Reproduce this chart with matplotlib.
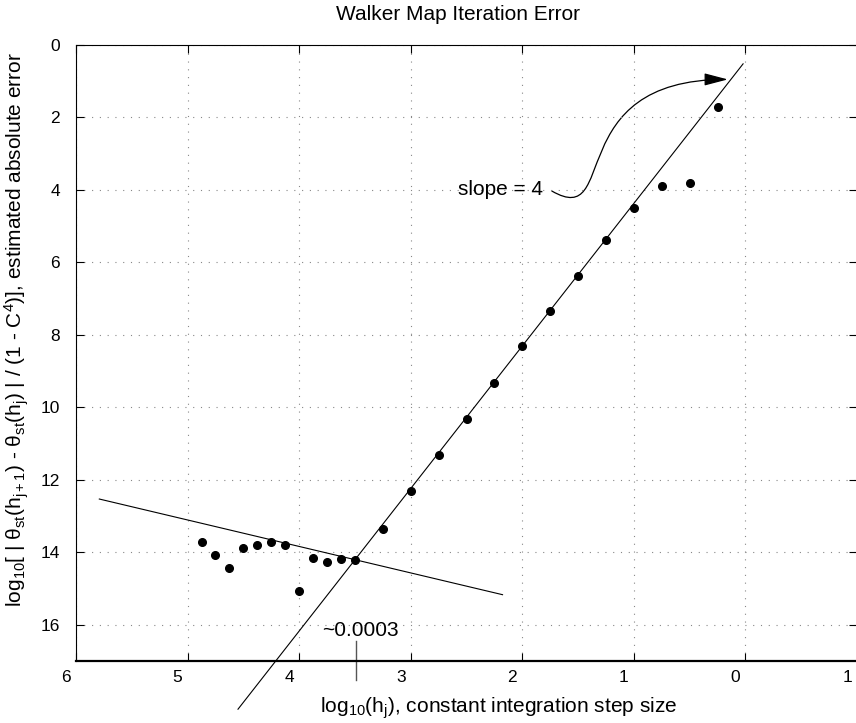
import matplotlib
matplotlib.use("Agg")
import matplotlib.pyplot as plt
from matplotlib.path import Path
from matplotlib.patches import FancyArrowPatch
from matplotlib.transforms import ScaledTranslation

plt.rcParams["font.family"] = ["Liberation Sans", "DejaVu Sans"]
plt.rcParams["mathtext.fontset"] = "custom"
plt.rcParams["mathtext.rm"] = "Liberation Sans"
plt.rcParams["mathtext.it"] = "Liberation Sans:italic"
plt.rcParams["mathtext.default"] = "regular"

# measured points: -log10(h) vs estimated error exponent
log_h = [4.875, 4.75, 4.625, 4.5, 4.375, 4.25, 4.125, 4.0, 3.875, 3.75, 3.625, 3.5,
         3.25, 3.0, 2.75, 2.5, 2.25, 2.0, 1.75, 1.5, 1.25, 1.0, 0.75, 0.5, 0.25]
log_err = [13.71, 14.08, 14.43, 13.87, 13.80, 13.71, 13.81, 15.07, 14.15, 14.28, 14.19, 14.22,
           13.35, 12.31, 11.31, 10.32, 9.33, 8.32, 7.34, 6.37, 5.39, 4.49, 3.88, 3.82, 1.70]

# hand-drawn fit lines (slope ~4 and round-off floor)
steep_x = [4.548, 0.021]
steep_y = [18.33, 0.52]
flat_x = [5.791, 2.177]
flat_y = [12.53, 15.17]

xticks = [6, 5, 4, 3, 2, 1, 0, -1]
xtick_labels = ["6", "5", "4", "3", "2", "1", "0", "1"]
yticks = [0, 2, 4, 6, 8, 10, 12, 14, 16]

fig = plt.figure(figsize=(8.56, 7.23), dpi=100)
ax = fig.add_axes([76 / 856, 62 / 723, 781 / 856, 616 / 723])

ax.plot(steep_x, steep_y, color="black", lw=0.8, clip_on=False)
ax.plot(flat_x, flat_y, color="black", lw=0.8, clip_on=False)
ax.plot(log_h, log_err, "o", color="black", markersize=5.5, clip_on=False)

ax.set_xlim(6, -1)
ax.set_ylim(17, 0)
ax.set_xticks(xticks)
ax.set_xticklabels(xtick_labels)
ax.set_yticks(yticks)
ax.tick_params(direction="in", length=6, width=0.8, labelsize=12.5,
               top=True, right=True, colors="black")
ax.tick_params(axis="x", pad=6.5)
ax.tick_params(axis="y", pad=11.5)
for lab in ax.get_xticklabels():
    lab.set_transform(lab.get_transform() + ScaledTranslation(-0.10, 0, fig.dpi_scale_trans))

ax.grid(True, color="#888888", linestyle=(0, (1, 6)), lw=0.8)
for s in ["left", "top", "right"]:
    ax.spines[s].set_linewidth(0.8)
ax.spines["bottom"].set_linewidth(1.6)

# step size marker
ax.plot([3.494, 3.494], [16.46, 17.53], color="#555555", lw=1.0, clip_on=False)
ax.text(3.455, 16.16, "~0.0003", fontsize=15, ha="center", va="center")

# slope annotation with curved arrow
ax.text(1.815, 3.98, "slope = 4", fontsize=15, ha="right", va="center")
arrow_path = Path([(1.735, 4.03), (1.125, 5.11), (1.663, 0.95), (0.158, 0.95)],
                  [Path.MOVETO, Path.CURVE4, Path.CURVE4, Path.CURVE4])
arrow = FancyArrowPatch(path=arrow_path, arrowstyle="-|>,head_length=1.45,head_width=0.38",
                        mutation_scale=10, color="black", lw=0.9,
                        transform=ax.transData, clip_on=False)
ax.add_patch(arrow)

fig.text(457.5 / 856, 1 - 20 / 723, "Walker Map Iteration Error", fontsize=15,
         ha="center", va="baseline")
fig.text(498.5 / 856, 1 - 713 / 723, r"log$_{10}$(h$_j$), constant integration step size",
         fontsize=15, ha="center", va="baseline")
fig.text(17 / 856, 1 - 330 / 723,
         r"log$_{10}$[ | $\theta_{st}$(h$_{j+1}$) - $\theta_{st}$(h$_j$) | / (1 - C$^4$)], estimated absolute error",
         fontsize=15, ha="center", va="center", rotation=90)

fig.savefig("out.png", dpi=100)
